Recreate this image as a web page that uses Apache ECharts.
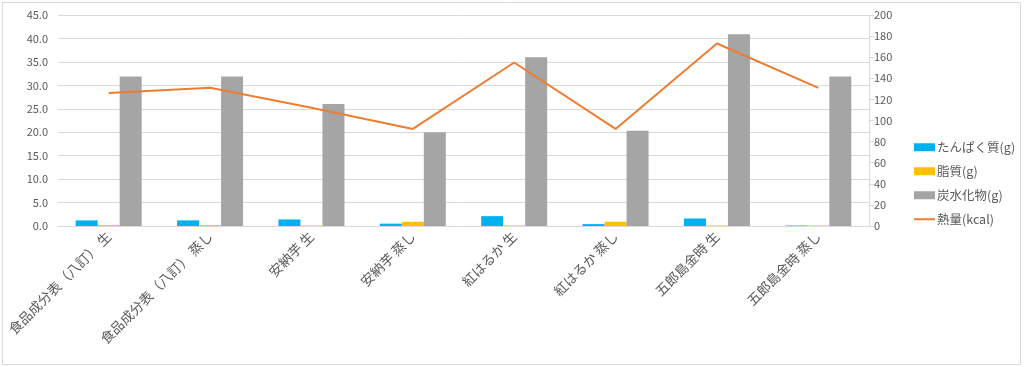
<!DOCTYPE html>
<html>
<head>
<meta charset="utf-8">
<script src="https://cdn.jsdelivr.net/npm/echarts@6/dist/echarts.min.js"></script>
<style>
html,body{margin:0;padding:0;background:#fff;}
#c{width:1024px;height:367px;}
</style>
</head>
<body>
<div id="c"></div>
<script>
const categories = ['食品成分表（八訂） 生','食品成分表（八訂） 蒸し','安納芋 生','安納芋 蒸し','紅はるか 生','紅はるか 蒸し','五郎島金時 生','五郎島金時 蒸し'];
const protein = [1.2, 1.2, 1.4, 0.5, 2.1, 0.4, 1.6, 0.1];
const fat = [0.2, 0.2, 0.1, 0.9, 0.1, 0.9, 0.1, 0.1];
const carbs = [31.9, 31.9, 26.0, 20.0, 36.0, 20.3, 40.9, 31.9];
const kcal = [126, 131, 112, 92, 155, 92, 173, 131];
const leftTicks = {min: 0, max: 45, interval: 5};
const rightTicks = {min: 0, max: 200, interval: 20};

const font = "'Noto Sans CJK JP', 'Noto Sans', sans-serif";
const chart = echarts.init(document.getElementById('c'));
chart.setOption({
  animation: false,
  textStyle: {fontFamily: font},
  graphic: [{
    type: 'rect', shape: {x: 2.5, y: 2.5, width: 1018, height: 362},
    style: {fill: 'none', stroke: '#d9d9d9', lineWidth: 1}, silent: true, z: -1
  }],
  grid: {left: 58, right: 155, top: 15, bottom: 141, containLabel: false},
  legend: {
    orient: 'vertical', left: 908, top: 136, itemGap: 11.5,
    itemWidth: 21, itemHeight: 8,
    textStyle: {fontSize: 12.5, color: '#595959', fontFamily: font, padding: [0,0,0,-3]},
    data: [
      {name: 'たんぱく質(g)', icon: 'rect'},
      {name: '脂質(g)', icon: 'rect'},
      {name: '炭水化物(g)', icon: 'rect'},
      {name: '熱量(kcal)', itemStyle: {opacity: 0}}
    ]
  },
  xAxis: {
    type: 'category', data: categories,
    axisLine: {show: true, lineStyle: {color: '#d9d9d9'}},
    axisTick: {show: false},
    axisLabel: {rotate: 45, interval: 0, fontSize: 13.5, color: '#595959', margin: 8, fontFamily: font}
  },
  yAxis: [{
    type: 'value', min: leftTicks.min, max: leftTicks.max, interval: leftTicks.interval,
    axisLine: {show: false}, axisTick: {show: false},
    axisLabel: {fontSize: 11, color: '#595959', margin: 10, formatter: v => v.toFixed(1)},
    splitLine: {lineStyle: {color: '#d9d9d9'}}
  }, {
    type: 'value', min: rightTicks.min, max: rightTicks.max, interval: rightTicks.interval,
    position: 'right',
    axisLine: {show: true, lineStyle: {color: '#d9d9d9'}},
    axisTick: {show: true, length: 5, lineStyle: {color: '#d9d9d9'}},
    axisLabel: {fontSize: 11, color: '#595959', margin: 5, align: 'left'},
    splitLine: {show: false}
  }],
  series: [
    {name: 'たんぱく質(g)', type: 'bar', data: protein, barWidth: 22, barGap: '0%', itemStyle: {color: '#00b0f0'}},
    {name: '脂質(g)', type: 'bar', data: fat, barWidth: 22, barGap: '0%', itemStyle: {color: '#ffc000'}},
    {name: '炭水化物(g)', type: 'bar', data: carbs, barWidth: 22, barGap: '0%', itemStyle: {color: '#a5a5a5'}},
    {name: '熱量(kcal)', type: 'line', yAxisIndex: 1, data: kcal, symbol: 'none',
     lineStyle: {color: '#ed7d31', width: 2}, itemStyle: {color: '#ed7d31'}}
  ]
});
</script>
</body>
</html>
